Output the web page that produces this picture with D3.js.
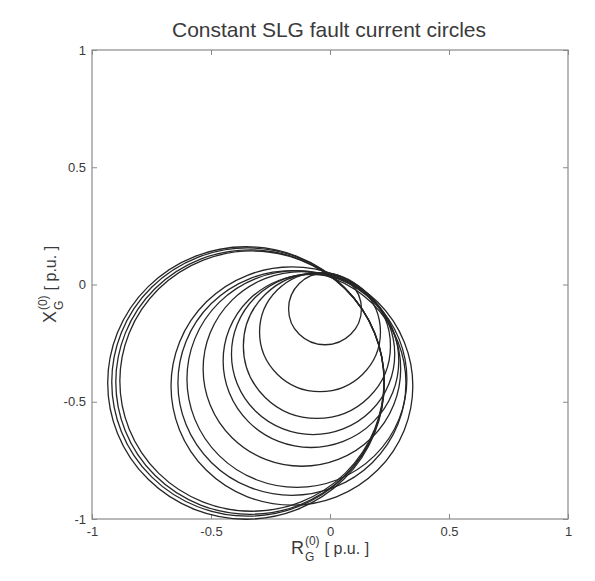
<!DOCTYPE html>
<html>
<head>
<meta charset="utf-8">
<script src="https://cdn.jsdelivr.net/npm/d3@7"></script>
<style>
  body { margin: 0; background: #fff; }
  text { font-family: "Liberation Sans", Arial, sans-serif; fill: #3a3a3a; }
</style>
</head>
<body>
<script>
//Circle data: centre (R, X) and radius, all in p.u.
var centreR = [-0.021, -0.042, -0.055, -0.071, -0.080, -0.118, -0.139, -0.160, -0.160, -0.328, -0.336, -0.345, -0.353];
var centreX = [-0.104, -0.203, -0.262, -0.297, -0.326, -0.360, -0.403, -0.420, -0.433, -0.412, -0.416, -0.416, -0.420];
var radius  = [0.153, 0.254, 0.309, 0.343, 0.369, 0.415, 0.462, 0.479, 0.508, 0.555, 0.564, 0.572, 0.581];

//Axis ticks
var tickValues = [-1, -0.5, 0, 0.5, 1];
var tickLabels = ["-1", "-0.5", "0", "0.5", "1"];

var circles = centreR.map(function(d, i){
  return {r0: d, x0: centreX[i], rad: radius[i]};
});

//Margins and dimensions
var margin = {top: 50, right: 27, bottom: 62, left: 92};
var width = 595 - margin.left - margin.right;
var height = 581 - margin.top - margin.bottom;

var svg = d3.select('body')
    .append('svg')
    .attr('width', 595)
    .attr('height', 581)
  .append('g')
    .attr('transform', 'translate(' + margin.left + ',' + margin.top + ')');

var xscale = d3.scaleLinear().domain([-1, 1]).range([0, width]);
var yscale = d3.scaleLinear().domain([-1, 1]).range([height, 0]);

//Axes: inward ticks on all four sides, like a matlab box
var fmt = function(d, i){ return tickLabels[i]; };
var blank = function(){ return ''; };

function styleAxis(g){
  g.select('.domain').remove();
  g.selectAll('line').attr('stroke', '#8a8a8a');
  g.selectAll('text').style('font-size', '13px').attr('fill', '#555');
}

svg.append('g')
    .attr('transform', 'translate(0,' + height + ')')
    .call(d3.axisBottom(xscale).tickValues(tickValues).tickFormat(fmt)
      .tickSizeInner(-5).tickSizeOuter(0).tickPadding(8))
    .call(styleAxis);

svg.append('g')
    .call(d3.axisTop(xscale).tickValues(tickValues).tickFormat(blank)
      .tickSizeInner(-5).tickSizeOuter(0))
    .call(styleAxis);

svg.append('g')
    .call(d3.axisLeft(yscale).tickValues(tickValues).tickFormat(fmt)
      .tickSizeInner(-5).tickSizeOuter(0).tickPadding(6))
    .call(styleAxis);

svg.append('g')
    .attr('transform', 'translate(' + width + ',0)')
    .call(d3.axisRight(yscale).tickValues(tickValues).tickFormat(blank)
      .tickSizeInner(-5).tickSizeOuter(0))
    .call(styleAxis);

//Plot box
svg.append('rect')
    .attr('width', width)
    .attr('height', height)
    .attr('fill', 'none')
    .attr('stroke', '#8a8a8a')
    .attr('stroke-width', 1.2);

//Circles
svg.selectAll('ellipse.circ')
    .data(circles).enter()
    .append('ellipse')
    .attr('class', 'circ')
    .attr('cx', function(d){ return xscale(d.r0); })
    .attr('cy', function(d){ return yscale(d.x0); })
    .attr('rx', function(d){ return xscale(d.rad) - xscale(0); })
    .attr('ry', function(d){ return yscale(0) - yscale(d.rad); })
    .attr('fill', 'none')
    .attr('stroke', '#262626')
    .attr('stroke-width', 1.3);

//Title
svg.append('text')
    .attr('x', width / 2 - 1)
    .attr('y', -13)
    .attr('text-anchor', 'middle')
    .style('font-size', '21px')
    .text('Constant SLG fault current circles');

//Axis label with stacked super/subscript, centred on its own width
function makeLabel(g, base, sup, sub, rest){
  var t1 = g.append('text').attr('x', 0).attr('y', 0).style('font-size', '18px').text(base);
  var w1 = t1.node().getComputedTextLength() + 1;
  var ts = g.append('text').attr('x', w1).attr('y', -9).style('font-size', '12px').text(sup);
  var tb = g.append('text').attr('x', w1).attr('y', 7).style('font-size', '12px').text(sub);
  var w2 = Math.max(ts.node().getComputedTextLength(), tb.node().getComputedTextLength()) + 5;
  var t3 = g.append('text').attr('x', w1 + w2).attr('y', 0).style('font-size', '16px').text(rest);
  return w1 + w2 + t3.node().getComputedTextLength();
}

var xLab = svg.append('g');
var xw = makeLabel(xLab, 'R', '(0)', 'G', '[ p.u. ]');
xLab.attr('transform', 'translate(' + (width / 2 - xw / 2) + ',' + (height + 35) + ')');

var yLab = svg.append('g');
var yw = makeLabel(yLab, 'X', '(0)', 'G', '[ p.u. ]');
yLab.attr('transform', 'translate(-36,' + (height / 2 + yw / 2) + ') rotate(-90)');
</script>
</body>
</html>
